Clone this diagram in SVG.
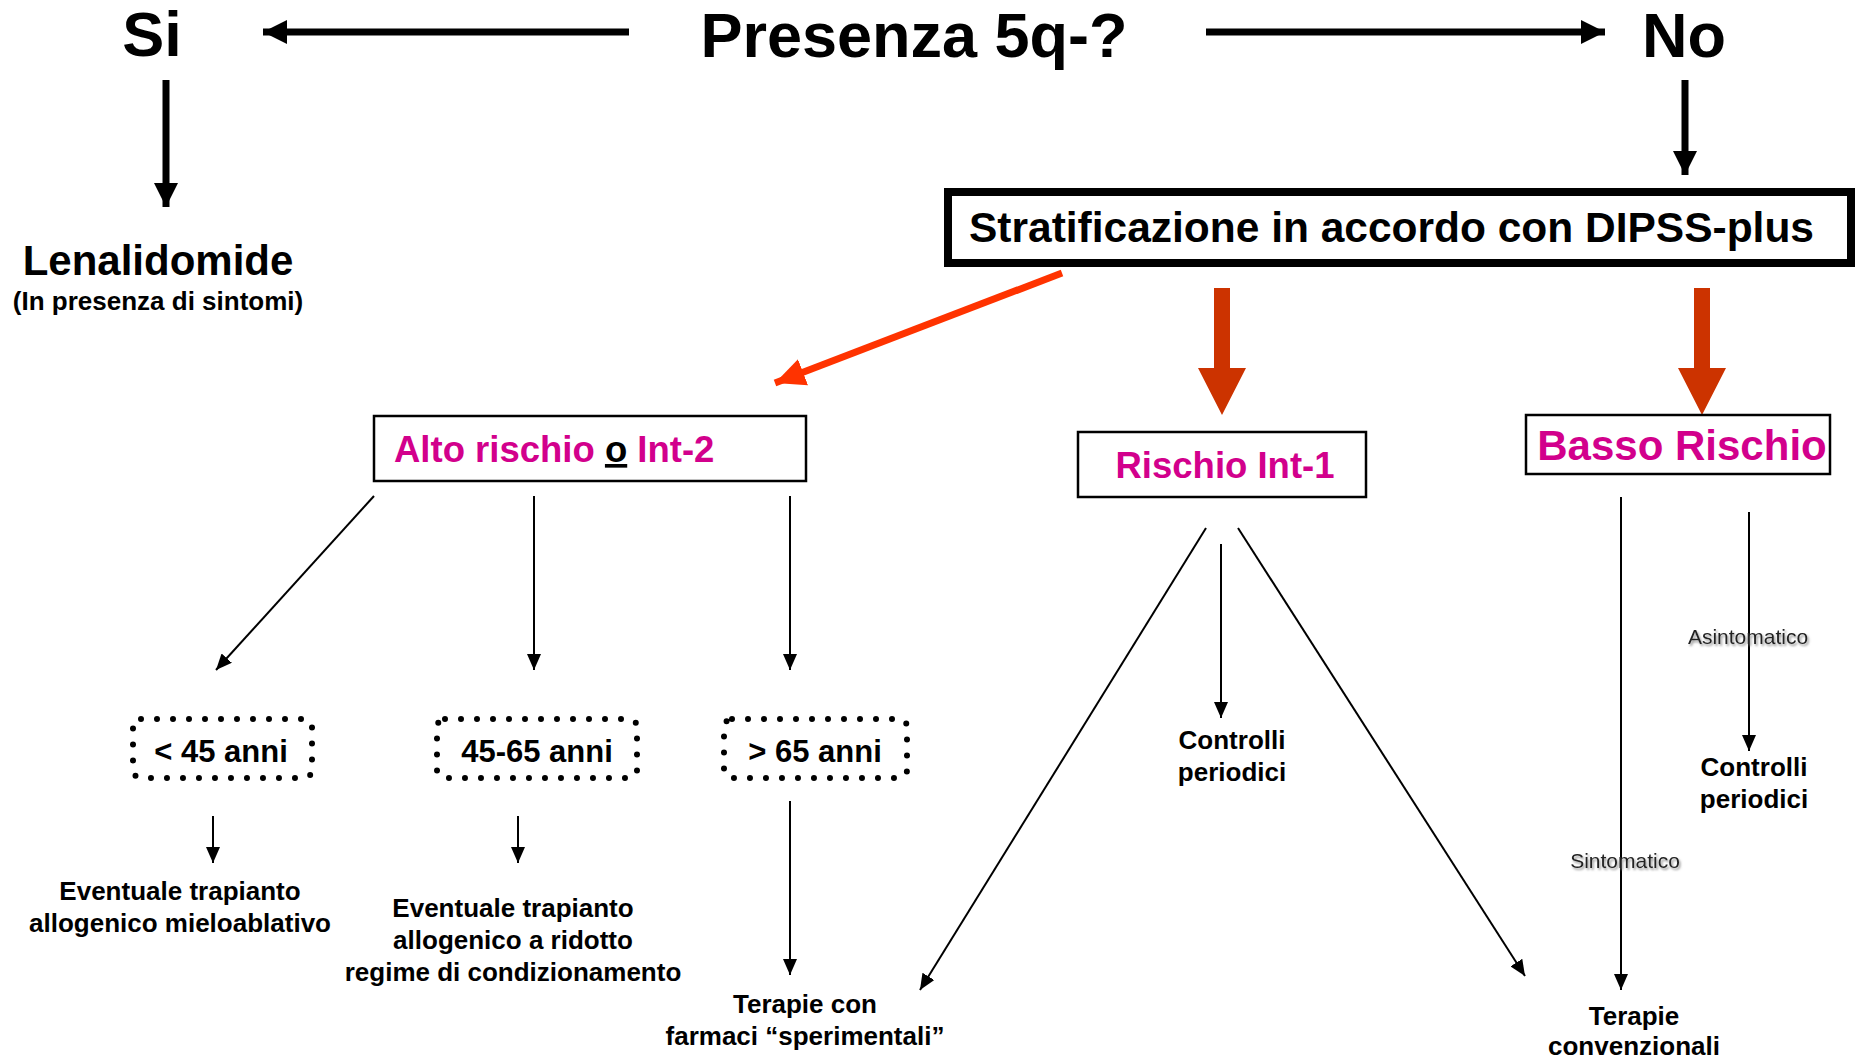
<svg xmlns="http://www.w3.org/2000/svg" width="1857" height="1062" viewBox="0 0 1857 1062">
<style>
text{font-family:"Liberation Sans",Arial,sans-serif;font-weight:bold;fill:#000}
.big{font-size:63px}
.t42{font-size:42px}
.t36{font-size:36.5px}
.t31{font-size:31px}
.t26{font-size:26px}
.mag{fill:#d2008c}
.lbl{font-size:21px;font-weight:normal;fill:#222}
.box{fill:#fff;stroke:#000;stroke-width:2.5}
.dot{fill:none;stroke:#000;stroke-width:6;stroke-dasharray:0 16;stroke-linecap:round}
.thin{stroke:#000;stroke-width:2;fill:none}
.thick{stroke:#000;stroke-width:7;fill:none}
</style>
<defs>
<marker id="ah" markerUnits="userSpaceOnUse" markerWidth="16" markerHeight="14" refX="16" refY="7" orient="auto"><path d="M0,0 L16,7 L0,14 z" fill="#000"/></marker>
<marker id="ahb" markerUnits="userSpaceOnUse" markerWidth="24" markerHeight="24" refX="24" refY="12" orient="auto"><path d="M0,0 L24,12 L0,24 z" fill="#000"/></marker>
<marker id="ahr" markerUnits="userSpaceOnUse" markerWidth="30" markerHeight="28" refX="30" refY="14" orient="auto"><path d="M0,0 L30,14 L0,28 z" fill="#ff3300"/></marker>
<filter id="sh" x="-10%" y="-30%" width="130%" height="170%"><feDropShadow dx="1.5" dy="2" stdDeviation="1" flood-color="#888" flood-opacity="0.9"/></filter>
</defs>

<g id="connectors">
<line class="thick" x1="629" y1="32" x2="263" y2="32" marker-end="url(#ahb)"/>
<line class="thick" x1="1206" y1="32" x2="1605" y2="32" marker-end="url(#ahb)"/>
<line class="thick" x1="166" y1="80" x2="166" y2="207" marker-end="url(#ahb)"/>
<line class="thick" x1="1685" y1="80" x2="1685" y2="175" marker-end="url(#ahb)"/>
<line x1="1062" y1="273" x2="775" y2="383" stroke="#ff3300" stroke-width="7" marker-end="url(#ahr)"/>
<path d="M1214,288 H1230 V368 H1246 L1222,415 L1198,368 H1214 Z" fill="#cc3300"/>
<path d="M1694,288 H1710 V368 H1726 L1702,415 L1678,368 H1694 Z" fill="#cc3300"/>
<line class="thin" x1="374" y1="496" x2="216" y2="670" marker-end="url(#ah)"/>
<line class="thin" x1="534" y1="496" x2="534" y2="670" marker-end="url(#ah)"/>
<line class="thin" x1="790" y1="496" x2="790" y2="670" marker-end="url(#ah)"/>
<line class="thin" x1="213" y1="816" x2="213" y2="863" marker-end="url(#ah)"/>
<line class="thin" x1="518" y1="816" x2="518" y2="863" marker-end="url(#ah)"/>
<line class="thin" x1="790" y1="801" x2="790" y2="975" marker-end="url(#ah)"/>
<line class="thin" x1="1206" y1="528" x2="920" y2="990" marker-end="url(#ah)"/>
<line class="thin" x1="1221" y1="544" x2="1221" y2="718" marker-end="url(#ah)"/>
<line class="thin" x1="1238" y1="528" x2="1525" y2="976" marker-end="url(#ah)"/>
<line class="thin" x1="1621" y1="497" x2="1621" y2="990" marker-end="url(#ah)"/>
<line class="thin" x1="1749" y1="512" x2="1749" y2="751" marker-end="url(#ah)"/>
<text class="lbl" x="1748" y="644" text-anchor="middle" filter="url(#sh)">Asintomatico</text>
<text class="lbl" x="1625" y="868" text-anchor="middle" filter="url(#sh)">Sintomatico</text>
</g>

<g id="q"><text class="big" x="914" y="57" text-anchor="middle">Presenza 5q-?</text></g>
<g id="si"><text class="big" x="152" y="56" text-anchor="middle">Si</text></g>
<g id="no"><text class="big" x="1684" y="57" text-anchor="middle">No</text></g>
<g id="lenalidomide">
<text class="t42" x="158" y="275" text-anchor="middle">Lenalidomide</text>
<text class="t26" x="158" y="310" text-anchor="middle">(In presenza di sintomi)</text>
</g>
<g id="dipss">
<rect x="948" y="192" width="903" height="71" fill="#fff" stroke="#000" stroke-width="8"/>
<text class="t42" x="969" y="242" textLength="845" lengthAdjust="spacingAndGlyphs">Stratificazione in accordo con DIPSS-plus</text>
</g>
<g id="alto">
<rect class="box" x="374" y="416" width="432" height="65"/>
<text class="t36" x="394" y="462"><tspan class="mag">Alto rischio </tspan><tspan text-decoration="underline">o</tspan><tspan class="mag"> Int-2</tspan></text>
</g>
<g id="int1">
<rect class="box" x="1078" y="432" width="288" height="65"/>
<text class="t36 mag" x="1225" y="478" text-anchor="middle">Rischio Int-1</text>
</g>
<g id="basso">
<rect class="box" x="1526" y="415" width="304" height="59"/>
<text class="t42 mag" x="1682" y="460" text-anchor="middle">Basso Rischio</text>
</g>
<g id="age1">
<rect class="dot" x="133" y="719" width="179" height="59" rx="8"/>
<text class="t31" x="221" y="762" text-anchor="middle">&lt; 45 anni</text>
</g>
<g id="age2">
<rect class="dot" x="437" y="719" width="200" height="59" rx="8"/>
<text class="t31" x="537" y="762" text-anchor="middle">45-65 anni</text>
</g>
<g id="age3">
<rect class="dot" x="724" y="719" width="183" height="59" rx="8"/>
<text class="t31" x="815" y="762" text-anchor="middle">&gt; 65 anni</text>
</g>
<g id="mieloablativo">
<text class="t26" x="180" y="900" text-anchor="middle">Eventuale trapianto</text>
<text class="t26" x="180" y="932" text-anchor="middle">allogenico mieloablativo</text>
</g>
<g id="ridotto">
<text class="t26" x="513" y="917" text-anchor="middle">Eventuale trapianto</text>
<text class="t26" x="513" y="949" text-anchor="middle">allogenico a ridotto</text>
<text class="t26" x="513" y="981" text-anchor="middle">regime di condizionamento</text>
</g>
<g id="sperimentali">
<text class="t26" x="805" y="1013" text-anchor="middle">Terapie con</text>
<text class="t26" x="805" y="1045" text-anchor="middle">farmaci “sperimentali”</text>
</g>
<g id="controlli1">
<text class="t26" x="1232" y="749" text-anchor="middle">Controlli</text>
<text class="t26" x="1232" y="781" text-anchor="middle">periodici</text>
</g>
<g id="controlli2">
<text class="t26" x="1754" y="776" text-anchor="middle">Controlli</text>
<text class="t26" x="1754" y="808" text-anchor="middle">periodici</text>
</g>
<g id="convenzionali">
<text class="t26" x="1634" y="1025" text-anchor="middle">Terapie</text>
<text class="t26" x="1634" y="1055" text-anchor="middle">convenzionali</text>
</g>
</svg>
